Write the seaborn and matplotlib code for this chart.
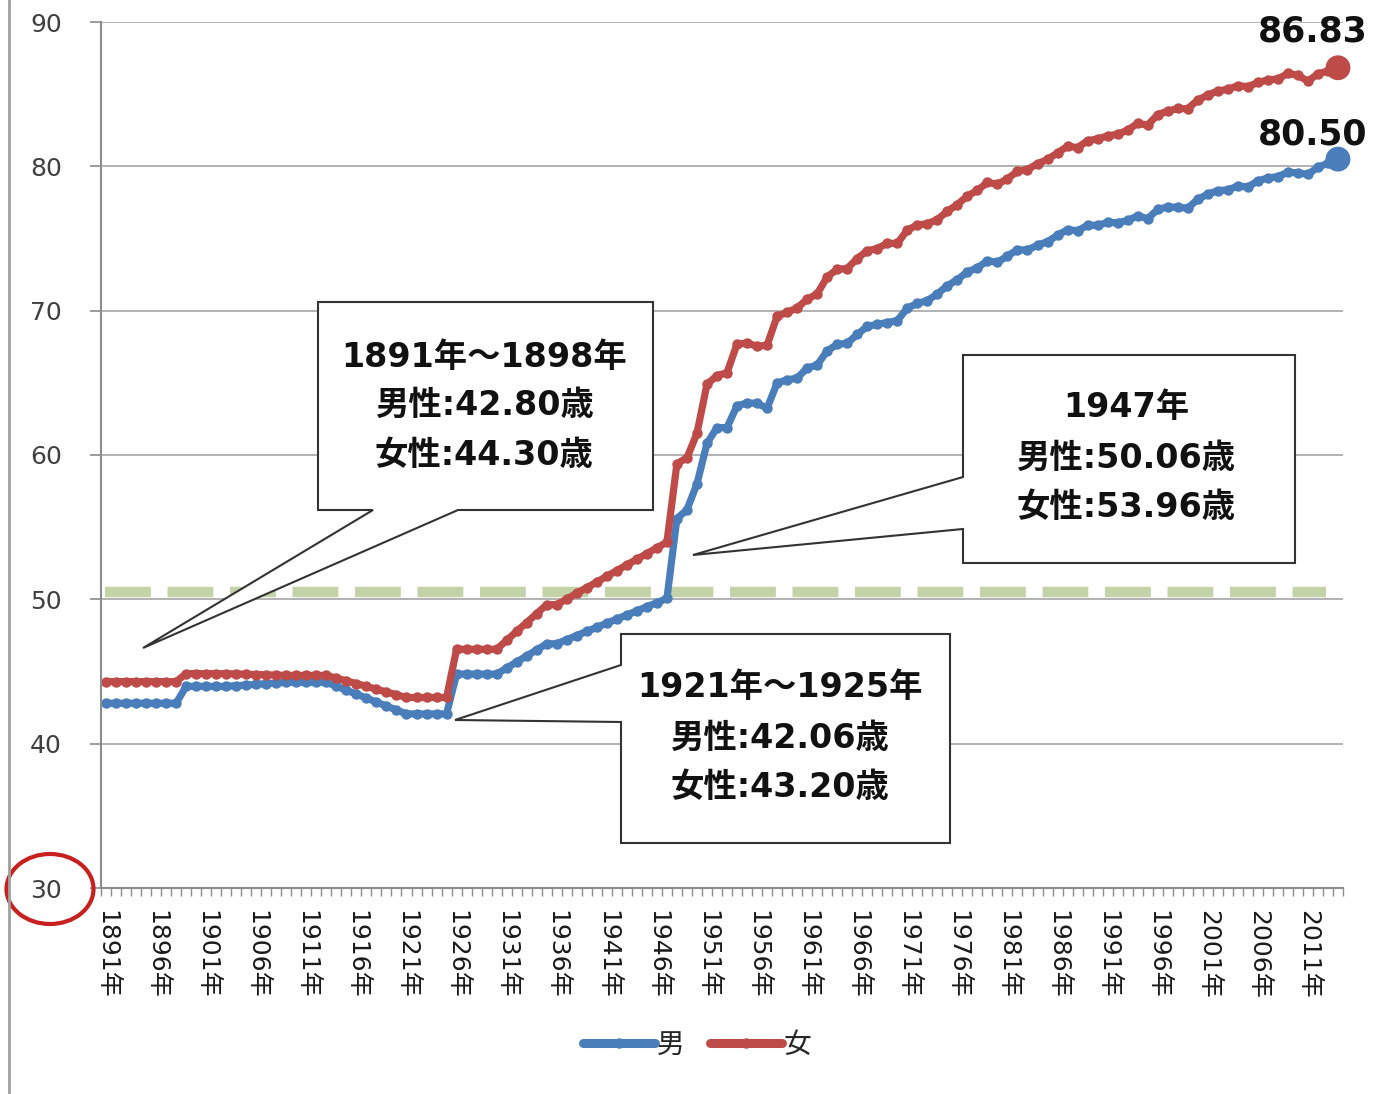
import numpy as np
import pandas as pd
import matplotlib
matplotlib.use("Agg")
import matplotlib.pyplot as plt
from matplotlib.patches import Polygon, Ellipse
from matplotlib.lines import Line2D
import seaborn as sns

# Data: life expectancy in Japan, one value per year 1891-2014
years = list(range(1891, 2015))

male = [
    42.80, 42.80, 42.80, 42.80, 42.80, 42.80, 42.80, 42.80,   # 1891-1898
    43.97, 43.97, 43.97, 43.97, 43.97,                        # 1899-1903
    44.02, 44.06, 44.11, 44.16, 44.20,                        # 1904-1908
    44.25, 44.25, 44.25, 44.25, 44.25,                        # 1909-1913
    43.98, 43.70, 43.43, 43.16, 42.88, 42.61, 42.33,          # 1914-1920
    42.06, 42.06, 42.06, 42.06, 42.06,                        # 1921-1925
    44.82, 44.82, 44.82, 44.82, 44.82,                        # 1926-1930
    45.24, 45.66, 46.08, 46.50,                               # 1931-1934
    46.92, 46.92,                                             # 1935-1936
    47.21, 47.49, 47.78, 48.06, 48.35, 48.63, 48.92, 49.20, 49.49, 49.77,  # 1937-1946
    50.06,                                                    # 1947
    55.60, 56.20, 58.00, 60.80, 61.90, 61.90, 63.41, 63.60, 63.59, 63.24, 64.98, 65.21, 65.32,  # 1948-1960
    66.03, 66.23, 67.21, 67.67, 67.74, 68.35, 68.91, 69.05, 69.18, 69.31,  # 1961-1970
    70.17, 70.50, 70.70, 71.16, 71.73, 72.15, 72.69, 72.97, 73.46, 73.35,  # 1971-1980
    73.79, 74.22, 74.20, 74.54, 74.78, 75.23, 75.61, 75.54, 75.91, 75.92,  # 1981-1990
    76.11, 76.09, 76.25, 76.57, 76.38, 77.01, 77.19, 77.16, 77.10, 77.72,  # 1991-2000
    78.07, 78.32, 78.36, 78.64, 78.56, 79.00, 79.19, 79.29, 79.59, 79.55,  # 2001-2010
    79.44, 79.94, 80.21, 80.50,                               # 2011-2014
]

female = [
    44.30, 44.30, 44.30, 44.30, 44.30, 44.30, 44.30, 44.30,   # 1891-1898
    44.85, 44.85, 44.85, 44.85, 44.85,                        # 1899-1903
    44.83, 44.81, 44.79, 44.77, 44.75,                        # 1904-1908
    44.73, 44.73, 44.73, 44.73, 44.73,                        # 1909-1913
    44.54, 44.35, 44.16, 43.97, 43.77, 43.58, 43.39,          # 1914-1920
    43.20, 43.20, 43.20, 43.20, 43.20,                        # 1921-1925
    46.54, 46.54, 46.54, 46.54, 46.54,                        # 1926-1930
    47.16, 47.78, 48.39, 49.01,                               # 1931-1934
    49.63, 49.63,                                             # 1935-1936
    50.02, 50.42, 50.81, 51.20, 51.60, 51.99, 52.39, 52.78, 53.17, 53.57,  # 1937-1946
    53.96,                                                    # 1947
    59.40, 59.80, 61.50, 64.90, 65.50, 65.70, 67.69, 67.75, 67.54, 67.60, 69.61, 69.88, 70.19,  # 1948-1960
    70.79, 71.16, 72.34, 72.87, 72.92, 73.61, 74.15, 74.30, 74.67, 74.66,  # 1961-1970
    75.58, 75.94, 76.02, 76.31, 76.89, 77.35, 77.95, 78.33, 78.89, 78.76,  # 1971-1980
    79.13, 79.66, 79.78, 80.18, 80.48, 80.93, 81.39, 81.30, 81.77, 81.90,  # 1981-1990
    82.11, 82.22, 82.51, 82.98, 82.85, 83.59, 83.82, 84.01, 83.99, 84.60,  # 1991-2000
    84.93, 85.23, 85.33, 85.59, 85.52, 85.81, 85.99, 86.05, 86.44, 86.30,  # 2001-2010
    85.90, 86.41, 86.61, 86.83,                               # 2011-2014
]

tick_years = years[::5]
tick_labels = [f"{y}年" for y in tick_years]

notes = [
    ["1891年～1898年", "男性:42.80歳", "女性:44.30歳"],
    ["1947年", "男性:50.06歳", "女性:53.96歳"],
    ["1921年～1925年", "男性:42.06歳", "女性:43.20歳"],
]

BLUE = "#4a7ebb"
RED = "#be4b48"

df = pd.DataFrame({
    "idx": list(range(len(years))) * 2,
    "age": male + female,
    "sex": ["男"] * len(years) + ["女"] * len(years),
})

sns.set_theme(style="white")
plt.rcParams["font.family"] = ["DejaVu Sans", "Noto Sans CJK JP"]

W, H = 1377, 1094
fig = plt.figure(figsize=(W / 100, H / 100), dpi=100)
ax = fig.add_axes([101 / W, 1 - 888 / H, (1343 - 101) / W, (888 - 22) / H])


def fp(x, y):
    # pixel position -> figure fraction
    return (x / W, 1 - y / H)


sns.lineplot(data=df, x="idx", y="age", hue="sex", hue_order=["男", "女"],
             palette={"男": BLUE, "女": RED}, marker="o", markersize=7.5,
             markeredgewidth=0, linewidth=5.2, errorbar=None, ax=ax)

# big end markers
last = df.groupby("sex").tail(1)
sns.scatterplot(data=last, x="idx", y="age", hue="sex", palette={"男": BLUE, "女": RED},
                s=320, linewidth=0, legend=False, ax=ax, zorder=5, clip_on=False)

# dashed reference line around 50
ax.axhline(50.5, xmin=0.003, xmax=0.986, color="#c4d2a8", lw=7.5,
           dashes=(4.4, 1.6), solid_capstyle="butt", dash_capstyle="butt", zorder=1)

ax.set_xlim(-0.5, len(years) - 0.5)
ax.set_ylim(30, 90)
ax.set_yticks(range(30, 91, 10))
ax.set_xticks([years.index(y) for y in tick_years])
ax.set_xticklabels(tick_labels, rotation=-90, fontsize=18, color="#1a1a1a")
ax.set_xticks(np.arange(-0.5, len(years), 1), minor=True)
ax.tick_params(axis="x", which="major", length=0, pad=16)
ax.tick_params(axis="x", which="minor", length=6, width=1, color="#8c8c8c", direction="out", bottom=True)
ax.tick_params(axis="y", length=8, width=1.2, color="#8c8c8c", direction="out", left=True,
               pad=20, labelsize=18, labelcolor="#404040")
ax.set_xlabel("")
ax.set_ylabel("")
ax.yaxis.grid(True, color="#a6a6a6", lw=1.2)
ax.xaxis.grid(False)
for s in ["top", "right"]:
    ax.spines[s].set_visible(False)
for s in ["left", "bottom"]:
    ax.spines[s].set_color("#8c8c8c")
    ax.spines[s].set_linewidth(1.5)

# end value labels
ax.annotate(f"{female[-1]:.2f}", (len(years) - 1, female[-1]), xytext=(-18, 26),
            textcoords="offset points", ha="center", va="center",
            fontsize=25, fontweight="bold", color="#111111")
ax.annotate(f"{male[-1]:.2f}", (len(years) - 1, male[-1]), xytext=(-18, 18),
            textcoords="offset points", ha="center", va="center",
            fontsize=25, fontweight="bold", color="#111111")

# legend
handles, labels = ax.get_legend_handles_labels()
ax.get_legend().remove()
leg = fig.legend(handles, labels, loc="center", bbox_to_anchor=fp(697, 1045), ncol=2,
                 frameon=False, fontsize=20, handlelength=2.6, handletextpad=0.05,
                 columnspacing=0.9)
for ln in leg.get_lines():
    ln.set_linewidth(6.5)

# callout boxes
callouts = [
    [(318, 302), (653, 302), (653, 510), (458, 510), (143, 648), (373, 510), (318, 510)],
    [(963, 355), (1295, 355), (1295, 563), (963, 563), (963, 529), (693, 555), (963, 477)],
    [(621, 634), (950, 634), (950, 843), (621, 843), (621, 722), (455, 720), (621, 665)],
]
text_pos = [
    (484, [357, 405, 455]),
    (1126, [407, 458, 507]),
    (780, [688, 738, 787]),
]
for pts, (cx, ys), lines in zip(callouts, text_pos, notes):
    poly = Polygon([fp(x, y) for x, y in pts], closed=True, transform=fig.transFigure,
                   facecolor="white", edgecolor="#333333", lw=1.5, zorder=3)
    fig.add_artist(poly)
    for ty, line in zip(ys, lines):
        fig.text(*fp(cx, ty), line, ha="center", va="center", fontsize=24,
                 fontweight="bold", color="#111111", zorder=4)

# red circle around the 30 label
fig.add_artist(Ellipse(fp(50, 889), 87 / W, 70 / H, transform=fig.transFigure,
                       fill=False, edgecolor="#c8201e", lw=3))

# outer chart border (left edge)
fig.add_artist(Line2D([9 / W, 9 / W], [0, 1], transform=fig.transFigure,
                      color="#a0a0a0", lw=2))

fig.savefig("out.png", dpi=100)
